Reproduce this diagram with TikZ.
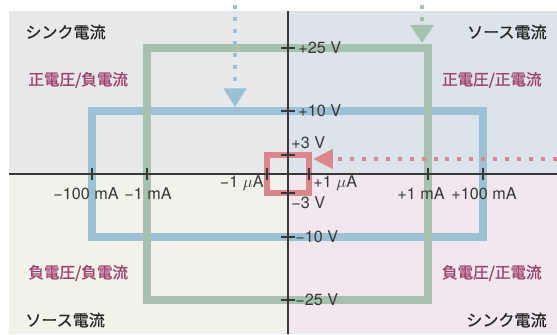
\documentclass[tikz,border=0pt]{standalone}
\usepackage{fontspec}
\setmainfont{TeX Gyre Heros}
\newfontfamily\jpfont[FakeBold=0.6]{Noto Sans CJK JP}
\newfontfamily\jpsignfont[FakeBold=1.2]{Noto Sans CJK JP}
\usetikzlibrary{arrows.meta}
\definecolor{bgtl}{HTML}{E6E8EA}
\definecolor{bgtr}{HTML}{DCE3EA}
\definecolor{bgbl}{HTML}{F2F1EA}
\definecolor{bgbr}{HTML}{F1E7EE}
\definecolor{rangegreen}{HTML}{A6C1AD}
\definecolor{rangeblue}{HTML}{9CC1D5}
\definecolor{rangered}{HTML}{D9878C}
\definecolor{signtext}{HTML}{9E416D}
\definecolor{axisgray}{HTML}{383838}

\begin{document}
\begin{tikzpicture}[x=0.03cm,y=-0.03cm,
    axislabel/.style={font=\fontsize{13.8}{15}\selectfont, text=axisgray, inner sep=1pt},
    quadname/.style={font=\jpfont\fontsize{13.7}{16}\selectfont, text=black!85, inner sep=1pt},
    quadsign/.style={font=\jpsignfont\fontsize{13.3}{16}\selectfont, text=signtext, inner sep=1pt},
    rangebox/.style={line width=6pt},
    feedarrow/.style={line width=3.8pt, dash pattern=on 3.4pt off 6.8pt},
    tickmark/.style={draw=axisgray, line width=0.9pt}]

    \useasboundingbox (0,0) rectangle (557,334);

    \fill[bgtl] (9,11) rectangle (288,174);
    \fill[bgtr] (288,11) rectangle (557,174);
    \fill[bgbl] (9,174) rectangle (288,334);
    \fill[bgbr] (288,174) rectangle (557,334);

    \draw[rangebox, rangeblue] (92,111) rectangle (483,237);
    \draw[rangebox, rangegreen] (147,48) rectangle (428,300);
    \draw[line width=4.7pt, rangered] (267,155) rectangle (309,193);

    \coordinate (blueStart) at (235,5);
    \coordinate (blueTip) at (235,107);
    \coordinate (greenStart) at (422,5);
    \coordinate (greenTip) at (422,43);
    \coordinate (redStart) at (557,159);
    \coordinate (redTip) at (313,159);
    \draw[feedarrow, rangeblue, -{Triangle[width=19pt,length=16pt]}] (blueStart) -- (blueTip);
    \draw[feedarrow, rangegreen, -{Triangle[width=19.5pt,length=15.5pt]}] (greenStart) -- (greenTip);
    \draw[feedarrow, rangered, -{Triangle[width=16pt,length=17pt]}] (redStart) -- (redTip);

    \draw[axisgray, line width=1pt] (9,174) -- (557,174);
    \draw[axisgray, line width=1pt] (288,11) -- (288,334);
    \foreach \xt in {92,147,267,309,428,483}
        \draw[tickmark] (\xt,168) -- (\xt,180);
    \foreach \yt in {48,111,155,193,237,300}
        \draw[tickmark] (281,\yt) -- (295,\yt);

    \node[axislabel, anchor=west] (vPlusTwentyFive) at (297,48) {+25 V};
    \node[axislabel, anchor=west] (vPlusTen) at (297,111) {+10 V};
    \node[axislabel, anchor=west] (vPlusThree) at (290,143) {+3 V};
    \node[axislabel, anchor=west] (vMinusThree) at (290,203) {−3 V};
    \node[axislabel, anchor=west] (vMinusTen) at (294,237) {−10 V};
    \node[axislabel, anchor=west] (vMinusTwentyFive) at (294,300) {−25 V};

    \node[axislabel] (iMinusHundred) at (86,194) {−100 mA};
    \node[axislabel] (iMinusOneMilli) at (148,194) {−1 mA};
    \node[axislabel, anchor=east] (iMinusOneMicro) at (265,183) {−1 $\mu$A};
    \node[axislabel, anchor=west] (iPlusOneMicro) at (312,183) {+1 $\mu$A};
    \node[axislabel] (iPlusOneMilli) at (421,194) {+1 mA};
    \node[axislabel] (iPlusHundred) at (484,194) {+100 mA};

    \node[quadname, anchor=west] (sinkTop) at (24,32) {シンク電流};
    \node[quadname, anchor=east] (sourceTop) at (548,32) {ソース電流};
    \node[quadname, anchor=west] (sourceBottom) at (24,320) {ソース電流};
    \node[quadname, anchor=east] (sinkBottom) at (548,320) {シンク電流};
    \node[quadsign, anchor=west] (posVnegI) at (27,80) {正電圧/負電流};
    \node[quadsign, anchor=east] (posVposI) at (543,80) {正電圧/正電流};
    \node[quadsign, anchor=west] (negVnegI) at (27,273) {負電圧/負電流};
    \node[quadsign, anchor=east] (negVposI) at (543,273) {負電圧/正電流};

\end{tikzpicture}
\end{document}
